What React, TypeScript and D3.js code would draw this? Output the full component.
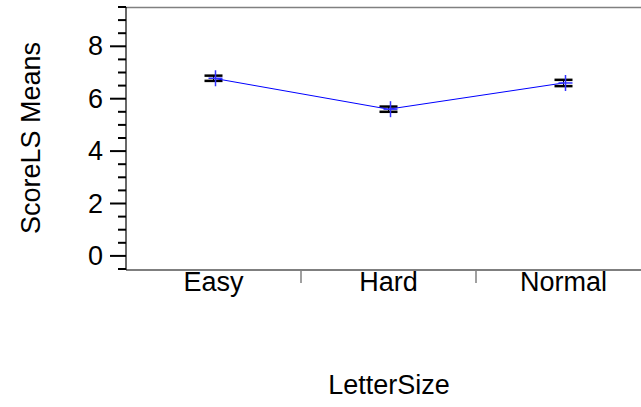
import React, { useRef, useEffect } from "react";
import * as d3 from "d3";

const categories = ["Easy", "Hard", "Normal"];
const means = [6.78, 5.6, 6.6];
const errLow = [6.68, 5.5, 6.48];
const errHigh = [6.88, 5.7, 6.72];
const majorTicks = [0, 2, 4, 6, 8];

export default function App() {
  const svgRef = useRef<SVGSVGElement>(null);

  useEffect(() => {
    const svg = d3.select(svgRef.current);
    svg.selectAll("*").remove();

    const width = 641;
    const left = 126;
    const top = 7;
    const bottom = 270;
    const bandW = 175;
    const fs = 27;

    const x = d3
      .scaleBand()
      .domain(categories)
      .range([left, left + bandW * categories.length]);
    const y = d3.scaleLinear().domain([-0.5, 9.5]).range([bottom - 1, top]);

    const font = "Arial, 'Liberation Sans', sans-serif";

    // frame
    svg.append("line")
      .attr("x1", left).attr("x2", width)
      .attr("y1", top + 0.5).attr("y2", top + 0.5)
      .attr("stroke", "#808080").attr("stroke-width", 1.5);
    svg.append("line")
      .attr("x1", left).attr("x2", width)
      .attr("y1", bottom).attr("y2", bottom)
      .attr("stroke", "#000").attr("stroke-width", 1.2);
    svg.append("line")
      .attr("x1", left).attr("x2", left)
      .attr("y1", top).attr("y2", bottom)
      .attr("stroke", "#000").attr("stroke-width", 1.2);

    // y ticks
    const allTicks = d3.range(-0.5, 9.51, 0.5);
    allTicks.forEach((t) => {
      const major = majorTicks.includes(t);
      svg.append("line")
        .attr("x1", major ? left - 16 : left - 8)
        .attr("x2", left)
        .attr("y1", y(t)).attr("y2", y(t))
        .attr("stroke", "#000").attr("stroke-width", 2);
    });
    majorTicks.forEach((t) => {
      svg.append("text")
        .attr("x", 103)
        .attr("y", y(t))
        .attr("text-anchor", "end")
        .attr("dominant-baseline", "central")
        .attr("font-family", font)
        .attr("font-size", fs)
        .text(t);
    });

    // x ticks between categories
    categories.slice(1).forEach((c) => {
      svg.append("line")
        .attr("x1", x(c)!).attr("x2", x(c)!)
        .attr("y1", bottom).attr("y2", bottom + 13)
        .attr("stroke", "#808080").attr("stroke-width", 1.5);
    });
    categories.forEach((c) => {
      svg.append("text")
        .attr("x", x(c)! + x.bandwidth() / 2)
        .attr("y", 291)
        .attr("text-anchor", "middle")
        .attr("font-family", font)
        .attr("font-size", fs)
        .text(c);
    });

    // axis titles
    svg.append("text")
      .attr("x", 389)
      .attr("y", 394)
      .attr("text-anchor", "middle")
      .attr("font-family", font)
      .attr("font-size", fs)
      .text("LetterSize");
    svg.append("text")
      .attr("transform", `translate(40, 138) rotate(-90)`)
      .attr("text-anchor", "middle")
      .attr("font-family", font)
      .attr("font-size", fs)
      .text("ScoreLS Means");

    const cx = (c: string) => x(c)! + x.bandwidth() / 2;

    // error caps
    categories.forEach((c, i) => {
      [errLow[i], errHigh[i]].forEach((v) => {
        svg.append("line")
          .attr("x1", cx(c) - 9).attr("x2", cx(c) + 9)
          .attr("y1", y(v)).attr("y2", y(v))
          .attr("stroke", "#000").attr("stroke-width", 2.5);
      });
      svg.append("line")
        .attr("x1", cx(c)).attr("x2", cx(c))
        .attr("y1", y(errLow[i])).attr("y2", y(errHigh[i]))
        .attr("stroke", "#000").attr("stroke-width", 1);
    });

    // mean line
    const line = d3
      .line<number>()
      .x((_, i) => cx(categories[i]))
      .y((d) => y(d));
    svg.append("path")
      .attr("d", line(means))
      .attr("fill", "none")
      .attr("stroke", "#0000ff")
      .attr("stroke-width", 1);

    // plus markers
    categories.forEach((c, i) => {
      const px = cx(c) + 2;
      const py = y(means[i]);
      svg.append("line")
        .attr("x1", px - 7).attr("x2", px + 7)
        .attr("y1", py).attr("y2", py)
        .attr("stroke", "#3333ff").attr("stroke-width", 1.5);
      svg.append("line")
        .attr("x1", px).attr("x2", px)
        .attr("y1", py - 8).attr("y2", py + 8)
        .attr("stroke", "#3333ff").attr("stroke-width", 1.5);
    });
  }, []);

  return (
    <svg
      ref={svgRef}
      width={641}
      height={407}
      style={{ position: "absolute", left: 0, top: 0, background: "#fff" }}
    />
  );
}
